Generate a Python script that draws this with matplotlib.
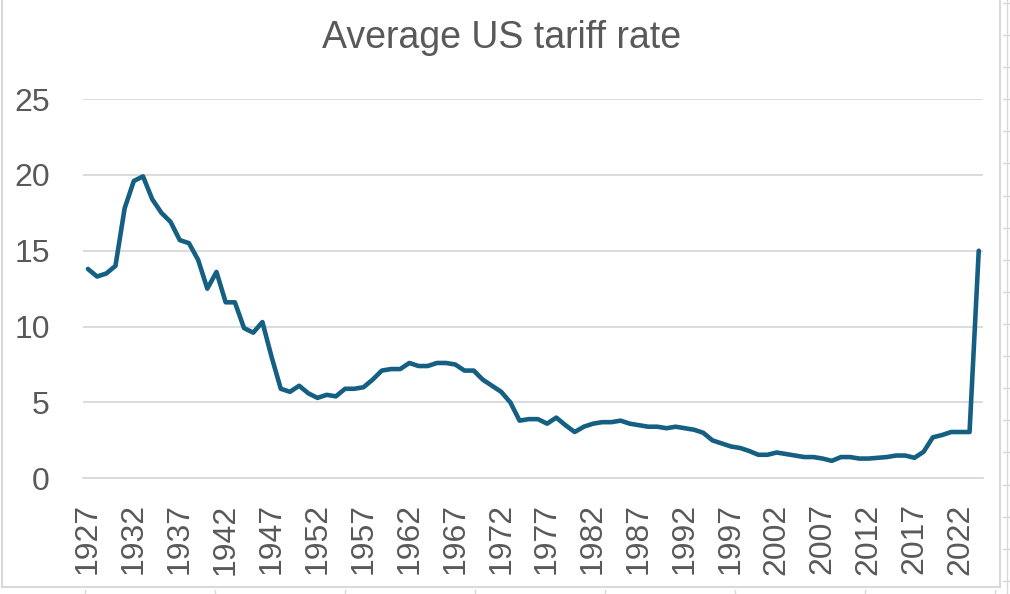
import matplotlib
matplotlib.use("Agg")
import matplotlib.pyplot as plt
from matplotlib.lines import Line2D
from matplotlib import font_manager

years = list(range(1927, 2025))
tariff = [13.8, 13.3, 13.5, 14.0, 17.8, 19.6, 19.9, 18.4, 17.5, 16.9,
          15.7, 15.5, 14.4, 12.5, 13.6, 11.6, 11.6, 9.9, 9.6, 10.3,
          8.0, 5.9, 5.7, 6.1, 5.6, 5.3, 5.5, 5.4, 5.9, 5.9,
          6.0, 6.5, 7.1, 7.2, 7.2, 7.6, 7.4, 7.4, 7.6, 7.6,
          7.5, 7.1, 7.1, 6.5, 6.1, 5.7, 5.0, 3.8, 3.9, 3.9,
          3.6, 4.0, 3.5, 3.05, 3.4, 3.6, 3.7, 3.7, 3.8, 3.6,
          3.5, 3.4, 3.4, 3.3, 3.4, 3.3, 3.2, 3.0, 2.5, 2.3,
          2.1, 2.0, 1.8, 1.55, 1.55, 1.7, 1.6, 1.5, 1.4, 1.4,
          1.3, 1.15, 1.4, 1.4, 1.3, 1.3, 1.35, 1.4, 1.5, 1.5,
          1.35, 1.75, 2.7, 2.85, 3.05, 3.05, 3.05, 15.0]
yticks = [0, 5, 10, 15, 20, 25]
title = "Average US tariff rate"

names = {f.name for f in font_manager.fontManager.ttflist}
title_font = "Liberation Sans Narrow" if "Liberation Sans Narrow" in names else "Liberation Sans"
plt.rcParams['font.family'] = ['Liberation Sans', 'DejaVu Sans']

fig = plt.figure(figsize=(10.1, 5.94), dpi=100)
ax = fig.add_axes([0.0825, 0.1948, 0.8911, 0.6385])

ax.plot(years, tariff, color="#156082", lw=3.3, solid_joinstyle="round", solid_capstyle="round")
ax.set_xlim(1926.5, 2024.5)
ax.set_ylim(0, 25)
ax.set_yticks(yticks)
ax.set_xticks(years[::5])
ax.set_xticklabels([str(y) for y in years[::5]], rotation=90)
ax.grid(axis="y", color="#D9D9D9", lw=1.3)
ax.set_axisbelow(True)
for s in ax.spines.values():
    s.set_visible(False)
ax.spines["bottom"].set_visible(True)
ax.spines["bottom"].set_color("#D9D9D9")
ax.spines["bottom"].set_linewidth(1.3)
ax.tick_params(axis="both", length=0, labelsize=23, labelcolor="#595959")
ax.tick_params(axis="y", pad=24)
ax.tick_params(axis="x", pad=18)

fig.text(0.4965, 0.936, title, ha="center", va="center", fontsize=27,
         color="#595959", family=[title_font, "DejaVu Sans"])

# chart border and the sheet cells around it
W, H = 1010, 594
def px_line(x0, y0, x1, y1, lw=1.5):
    fig.add_artist(Line2D([x0 / W, x1 / W], [1 - y0 / H, 1 - y1 / H],
                          transform=fig.transFigure, color="#D9D9D9", lw=lw))

px_line(2, 0, 2, 587)
px_line(2, 587, 1000, 587)
px_line(1000, 0, 1000, 587)
px_line(1007, 0, 1007, 594, lw=1.0)
for yy in [3, 35, 67, 99, 131, 163, 196, 228, 260, 292, 324, 356, 388, 420, 452, 485, 517, 549, 581]:
    px_line(1003, yy, 1010, yy, lw=1.0)
for xx in [85, 215, 345, 475, 605, 735, 865, 995]:
    px_line(xx, 590, xx, 594, lw=1.0)

fig.savefig("out.png", dpi=100)
